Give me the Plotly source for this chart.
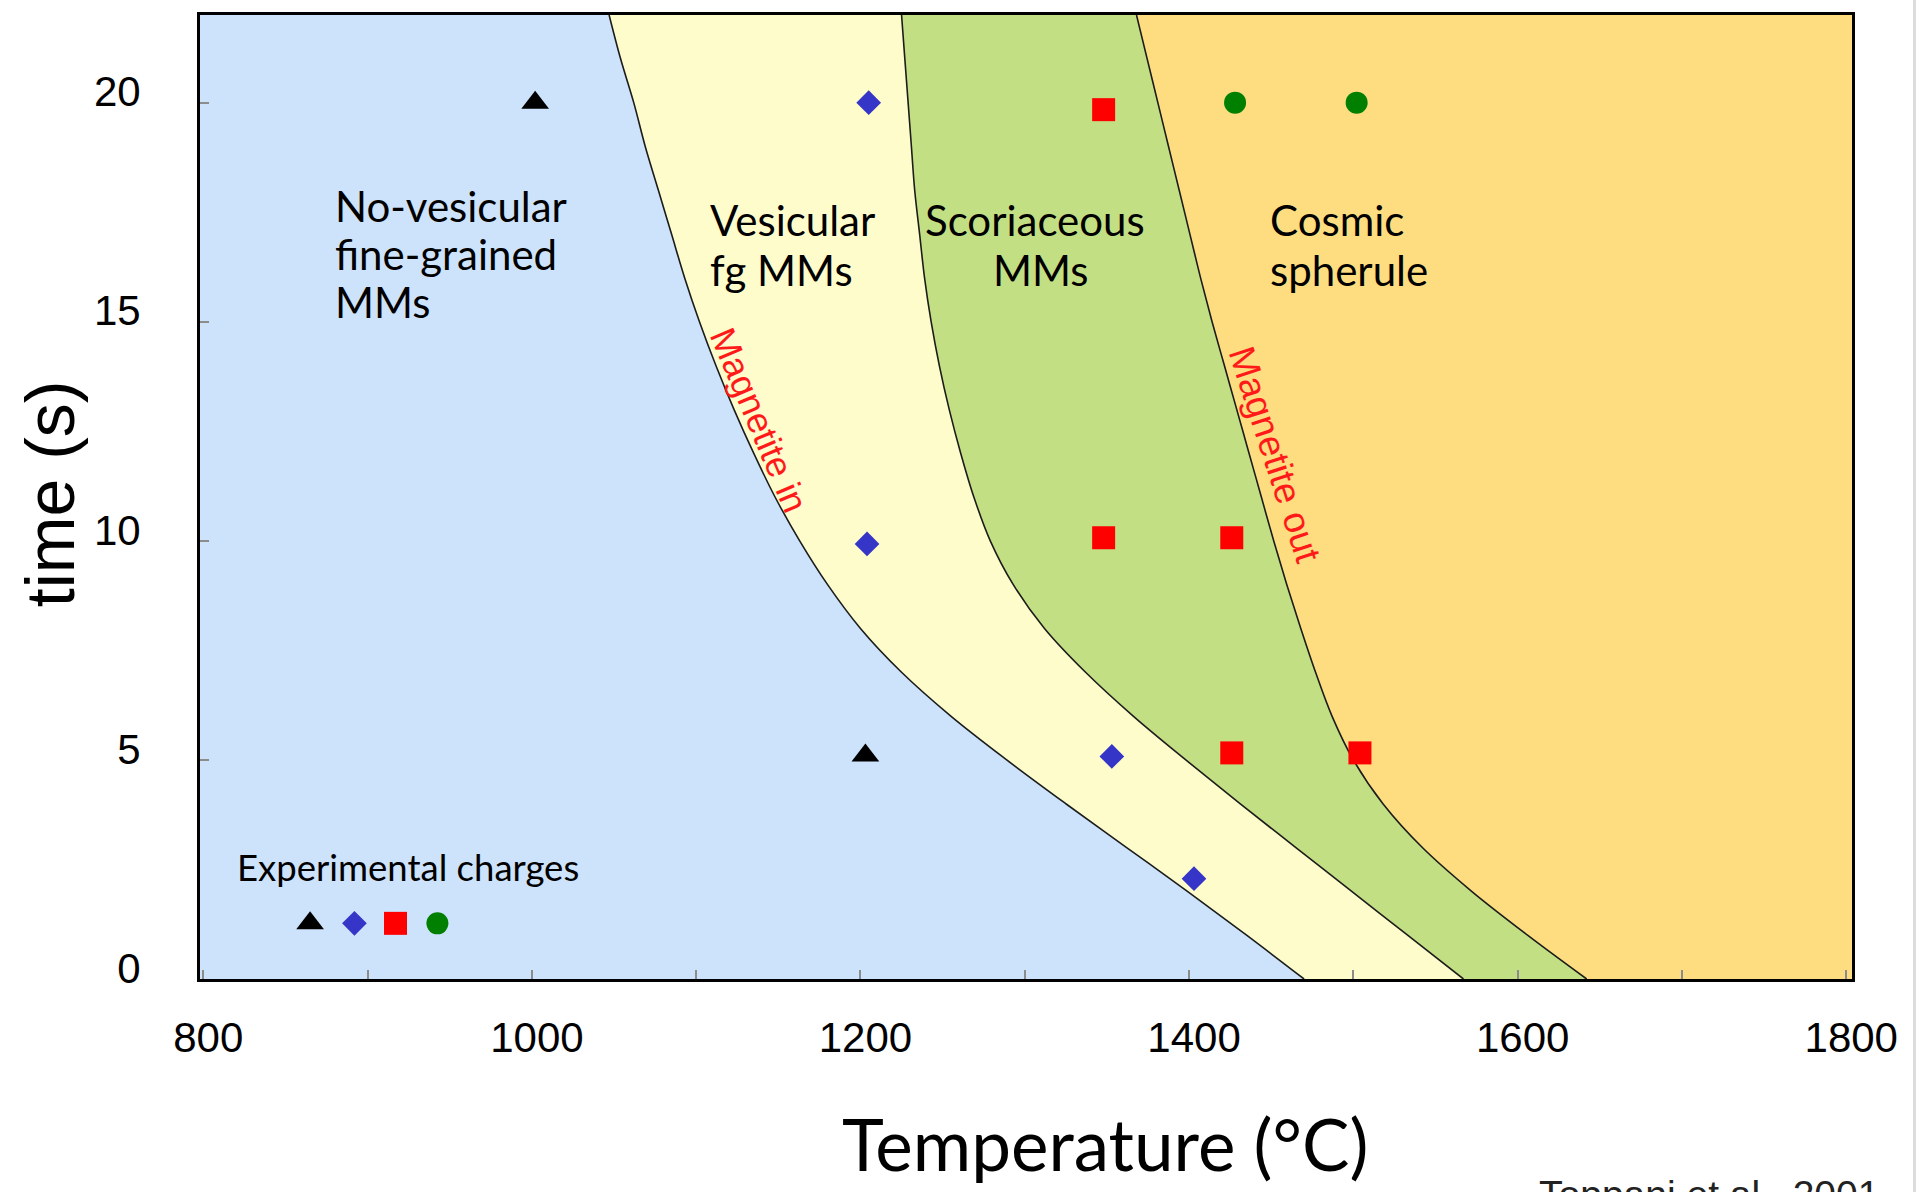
import plotly.graph_objects as go

# Phase boundaries: peak temperature (°C) reached for a given heating time (s)
BOUNDARY_TIME = list(range(0, 23))
MAG_IN_TEMP = [1470, 1435, 1399, 1362, 1325, 1289, 1255, 1225, 1200, 1180, 1163, 1148,
               1135, 1123, 1112, 1102, 1093, 1085, 1077, 1069, 1062, 1054, 1047]
SCORIA_TEMP = [1567, 1533, 1499, 1465, 1431, 1398, 1366, 1337, 1312, 1293, 1279, 1269,
               1261, 1254, 1248, 1243, 1239, 1236, 1233, 1231, 1229, 1227, 1225]
MAG_OUT_TEMP = [1642, 1606, 1572, 1542, 1518, 1500, 1487, 1477, 1468, 1459.5, 1451.5, 1444,
                1436.5, 1429, 1421.5, 1414, 1407, 1400.5, 1394, 1387.5, 1381, 1374.5, 1368]

# Experimental charges (temperature °C, time s)
TRI_TEMP = [1002, 1203]
TRI_TIME = [20.0, 5.1]
DIA_TEMP = [1205, 1204, 1353, 1403]
DIA_TIME = [20.0, 9.93, 5.08, 2.29]
SQR_TEMP = [1348, 1348, 1426, 1426, 1504]
SQR_TIME = [19.84, 10.07, 10.07, 5.16, 5.16]
CIR_TEMP = [1428, 1502]
CIR_TIME = [20.0, 20.0]

X_TICKS = [800, 1000, 1200, 1400, 1600, 1800]
Y_TICKS = [0, 5, 10, 15, 20]

BLUE = "#cde3fb"
YELLOW = "#fffccc"
GREEN = "#c3df84"
ORANGE = "#fedd81"
LINE = "#1c1c1c"

SANS = "Liberation Sans, Arial, sans-serif"
ROUND = "Lato, sans-serif"

fig = go.Figure()

# Filled fields, painted from the hottest boundary leftwards
for temps, fill in [
    (MAG_OUT_TEMP, GREEN),
    (SCORIA_TEMP, YELLOW),
    (MAG_IN_TEMP, BLUE),
]:
    fig.add_trace(go.Scatter(
        x=temps, y=BOUNDARY_TIME, mode="lines",
        line=dict(color=LINE, width=1.6, shape="spline", smoothing=1.0),
        fill="tozerox", fillcolor=fill,
        hoverinfo="skip", showlegend=False,
    ))

# Key symbols below the "Experimental charges" caption
KEY_TIME = 1.27
KEY_TEMP = [865, 892, 917, 942.5]

marker_styles = [
    (TRI_TEMP, TRI_TIME, dict(symbol="triangle-up", size=24, color="black")),
    (DIA_TEMP, DIA_TIME, dict(symbol="diamond", size=19, color="#3535c8")),
    (SQR_TEMP, SQR_TIME, dict(symbol="square", size=23, color="#ff0000")),
    (CIR_TEMP, CIR_TIME, dict(symbol="circle", size=22, color="#007f00")),
]
for (temps, times, mk), kx in zip(marker_styles, KEY_TEMP):
    fig.add_trace(go.Scatter(
        x=temps, y=times, mode="markers",
        marker=dict(line=dict(width=0), **mk),
        hoverinfo="skip", showlegend=False,
    ))
    fig.add_trace(go.Scatter(
        x=[kx], y=[KEY_TIME], mode="markers",
        marker=dict(line=dict(width=0), **mk),
        hoverinfo="skip", showlegend=False,
    ))

annotations = []


def label(text, x, y, anchor="left", size=42, color="black", family=ROUND, angle=0):
    annotations.append(dict(
        text=text, x=x, y=y, xref="x", yref="y", xanchor=anchor, yanchor="middle",
        showarrow=False, textangle=angle, font=dict(family=family, size=size, color=color),
    ))


# Field names
label("No-vesicular", 879, 17.63)
label("fine-grained", 879, 16.55)
label("MMs", 879, 15.46)
label("Vesicular", 1107, 17.33)
label("fg MMs", 1107, 16.19)
label("Scoriaceous", 1306, 17.33, anchor="center")
label("MMs", 1310, 16.19, anchor="center")
label("Cosmic", 1448, 17.33)
label("spherule", 1448, 16.19)
label("Experimental charges", 819, 2.56, size=36.5)

# Boundary names
label("Magnetite in", 1138, 12.76, anchor="center", size=36, color="#ff1a1a", family=SANS, angle=67)
label("Magnetite out", 1452, 11.96, anchor="center", size=37, color="#ff1a1a", family=SANS, angle=72)

# Axis titles and source
annotations.append(dict(
    text="time (s)", x=-0.0908, y=0.504, xref="paper", yref="paper",
    xanchor="center", yanchor="middle", showarrow=False, textangle=-90,
    font=dict(family=SANS, size=68, color="black"),
))
annotations.append(dict(
    text="Temperature (°C)", x=0.5478, y=-0.1711, xref="paper", yref="paper",
    xanchor="center", yanchor="middle", showarrow=False,
    font=dict(family=ROUND, size=71, color="black"),
))
annotations.append(dict(
    text="Toppani et al., 2001", x=0.9137, y=-0.2235, xref="paper", yref="paper",
    xanchor="center", yanchor="middle", showarrow=False,
    font=dict(family=SANS, size=39, color="#222222"),
))

axis_common = dict(
    showgrid=False, zeroline=False, showline=True, linecolor="black", linewidth=3,
    mirror=True, ticks="inside", ticklen=9, tickwidth=1.5, tickcolor="#8c8c8c",
    tickfont=dict(family=SANS, size=42, color="black"),
)

fig.update_layout(
    width=1916, height=1192,
    margin=dict(l=200, r=64, t=15, b=213),
    paper_bgcolor="white", plot_bgcolor=ORANGE,
    annotations=annotations,
    shapes=[dict(type="rect", xref="paper", yref="paper",
                 x0=1.0369, x1=1.05, y0=-0.23, y1=1.02,
                 fillcolor="#dcdcdc", line=dict(width=0), layer="above")],
    xaxis=dict(range=[798, 1803.5], tickvals=X_TICKS, ticklabelstandoff=20, ticklabelshift=5,
               minor=dict(dtick=100, tick0=800, ticks="inside", ticklen=9, tickwidth=1.5,
                          tickcolor="#8c8c8c"),
               **axis_common),
    yaxis=dict(range=[0, 22], tickvals=Y_TICKS, ticklabelstandoff=48, ticklabelshift=-11,
               **axis_common),
)

fig.write_html("out.html")
